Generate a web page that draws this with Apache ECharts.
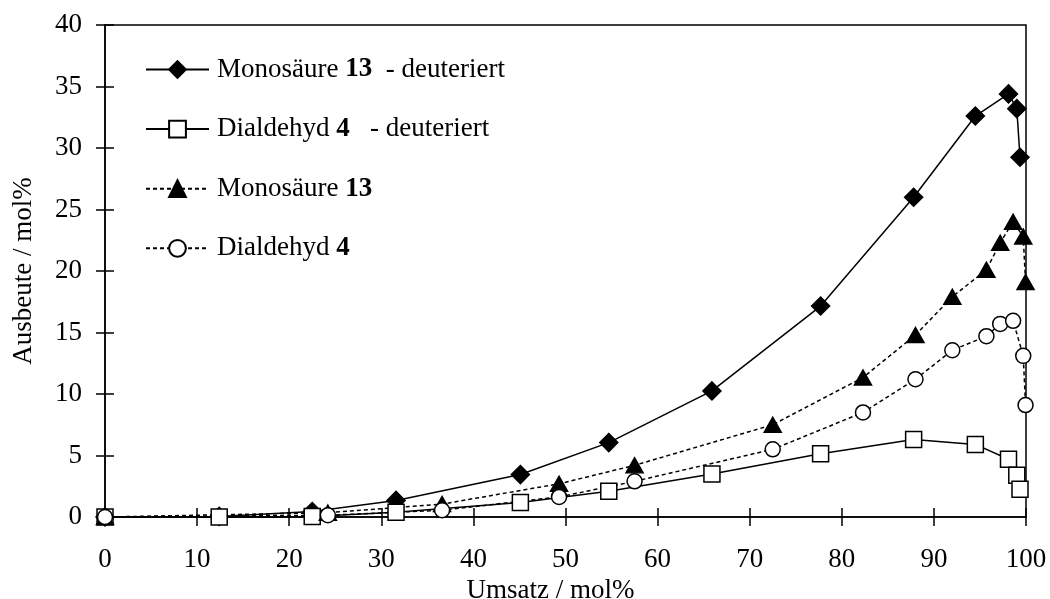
<!DOCTYPE html>
<html>
<head>
<meta charset="utf-8">
<script src="https://cdn.jsdelivr.net/npm/echarts@6/dist/echarts.min.js"></script>
<style>
  html, body { margin: 0; padding: 0; background: #fff; }
  #chart { width: 1050px; height: 599px; }
</style>
</head>
<body>
<div id="chart"></div>
<script>
// Umsatz (conversion, mol%) for the deuterated run and the normal run
const umsatzDeut = [0, 12.4, 22.5, 31.6, 45.1, 54.7, 65.9, 77.7, 87.8, 94.5, 98.1, 99.0, 99.35];
const umsatzNorm = [0, 24.2, 36.6, 49.3, 57.5, 72.5, 82.3, 88.0, 92.0, 95.7, 97.2, 98.6, 99.7, 99.95];

// Ausbeute (yield, mol%)
const monoDeut = [0, 0.05, 0.45, 1.35, 3.45, 6.05, 10.25, 17.15, 26.0, 32.6, 34.4, 33.2, 29.25];
const dialDeut = [0, 0, 0.05, 0.38, 1.17, 2.1, 3.5, 5.15, 6.3, 5.9, 4.7, 3.4, 2.25];
const monoNorm = [0, 0.35, 1.05, 2.7, 4.2, 7.5, 11.34, 14.8, 17.9, 20.1, 22.3, 24.0, 22.8, 19.1];
const dialNorm = [0, 0.14, 0.55, 1.63, 2.9, 5.5, 8.5, 11.2, 13.56, 14.7, 15.7, 15.95, 13.1, 9.1];

const seriesNames = ['mono_d', 'dial_d', 'mono', 'dial'];
const legendLabels = {
  mono_d: '{a|Monosäure }{b|13}{a|  - deuteriert}',
  dial_d: '{a|Dialdehyd }{b|4}{a|   - deuteriert}',
  mono: '{a|Monosäure }{b|13}',
  dial: '{a|Dialdehyd }{b|4}'
};

const FONT = 'Liberation Serif';
const FS = 27;
const zip = (xs, ys) => xs.map((x, i) => [x, ys[i]]);

const chart = echarts.init(document.getElementById('chart'), null, { renderer: 'canvas' });

function lineSeries(name, data, symbol, size, filled, dashed) {
  return {
    name: name,
    type: 'line',
    data: data,
    clip: false,
    symbol: symbol,
    symbolSize: size,
    showAllSymbol: true,
    lineStyle: { color: '#000', width: 1.5, type: dashed ? [4, 3] : 'solid' },
    itemStyle: { color: filled ? '#000' : '#fff', borderColor: '#000', borderWidth: 1.5, opacity: 1 },
    emphasis: { disabled: true },
    animation: false
  };
}

const axisText = { fontFamily: FONT, fontSize: FS, color: '#000' };
const tickStyle = { color: '#000', width: 1.5 };

chart.setOption({
  animation: false,
  backgroundColor: '#fff',
  grid: {
    left: 105, right: 24, top: 25, bottom: 82,
    containLabel: false,
    outerBoundsMode: 'none',
    show: true, borderColor: '#000', borderWidth: 1.5, backgroundColor: 'transparent'
  },
  legend: {
    orient: 'vertical',
    left: 145,
    top: 56,
    padding: 0,
    itemWidth: 63,
    itemHeight: 21,
    itemGap: 32.6,
    data: seriesNames,
    formatter: n => legendLabels[n],
    textStyle: {
      padding: [0, 0, 0, 3],
      rich: {
        a: { fontFamily: FONT, fontSize: FS, color: '#000' },
        b: { fontFamily: FONT, fontSize: FS, fontWeight: 'bold', color: '#000' }
      }
    },
    selectedMode: false
  },
  xAxis: [
    {
      type: 'value', min: 0, max: 100, interval: 10,
      name: 'Umsatz / mol%', nameLocation: 'middle', nameGap: 54,
      nameTextStyle: Object.assign({ padding: [0, 30, 0, 0] }, axisText),
      axisLine: { show: true, onZero: false, lineStyle: tickStyle },
      axisTick: { show: true, length: 9, lineStyle: tickStyle },
      axisLabel: Object.assign({ margin: 29 }, axisText),
      splitLine: { show: false }
    },
    {
      type: 'value', min: 0, max: 100, interval: 10, position: 'bottom',
      axisLine: { show: false },
      axisTick: { show: true, inside: true, length: 9, lineStyle: tickStyle },
      axisLabel: { show: false },
      splitLine: { show: false }
    }
  ],
  yAxis: [
    {
      type: 'value', min: 0, max: 40, interval: 5,
      name: 'Ausbeute / mol%', nameLocation: 'middle', nameGap: 68,
      nameTextStyle: axisText,
      axisLine: { show: true, onZero: false, lineStyle: tickStyle },
      axisTick: { show: true, length: 9, lineStyle: tickStyle },
      axisLabel: Object.assign({ margin: 23 }, axisText),
      splitLine: { show: false }
    },
    {
      type: 'value', min: 0, max: 40, interval: 5, position: 'left',
      axisLine: { show: false },
      axisTick: { show: true, inside: true, length: 9, lineStyle: tickStyle },
      axisLabel: { show: false },
      splitLine: { show: false }
    }
  ],
  series: [
    lineSeries('mono_d', zip(umsatzDeut, monoDeut), 'diamond', [18, 18], true, false),
    lineSeries('dial_d', zip(umsatzDeut, dialDeut), 'rect', [16, 16], false, false),
    lineSeries('mono', zip(umsatzNorm, monoNorm), 'triangle', [17, 15], true, true),
    lineSeries('dial', zip(umsatzNorm, dialNorm), 'circle', 15, false, true)
  ]
});
</script>
</body>
</html>
